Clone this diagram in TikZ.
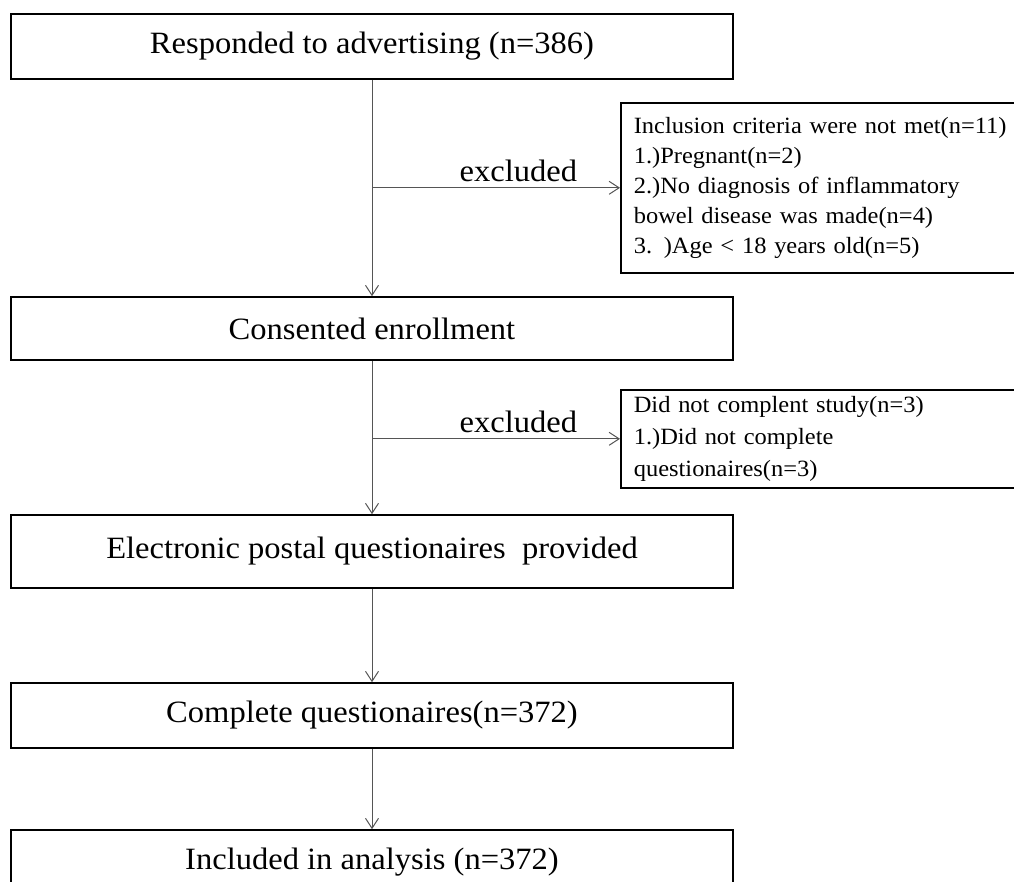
\documentclass[tikz,border=0pt]{standalone}
\usepackage{fontspec}
\setmainfont{Liberation Serif}[FakeStretch=1.05]
\usetikzlibrary{arrows.meta,positioning}
\definecolor{LineGray}{RGB}{85,85,85}

\begin{document}
\begin{tikzpicture}[x=1pt,y=-1pt,>={Straight Barb[length=10pt,width=13pt]},
  stage/.style={draw,line width=1.6pt,minimum width=722pt,inner sep=0pt,font=\fontsize{31}{34}\selectfont},
  exclbox/.style={draw,line width=1.6pt,anchor=north west,inner xsep=13pt,inner ysep=0pt,align=left,text width=385pt},
  flow/.style={->,LineGray,line width=1pt}]
\useasboundingbox (0,0) rectangle (1014,881);
% main column
\node[stage,minimum height=65pt] (advert) at (372,46.5) {Responded to advertising (n=386)};
\node[stage,minimum height=63pt] (consent) at (372,328.5) {Consented enrollment};
\node[stage,minimum height=73pt] (provided) at (372,551.5) {Electronic postal questionaires~ provided};
\node[stage,minimum height=65pt] (complete) at (372,715.5) {Complete questionaires(n=372)};
\node[stage,minimum height=65pt] (analysis) at (372,862.5) {Included in analysis (n=372)};
% exclusion boxes
\node[exclbox,minimum height=170pt,font=\fontsize{23.3}{30}\selectfont] (notmet) at (620,102) {Inclusion criteria were not met(n=11)\\1.)Pregnant(n=2)\\2.)No diagnosis of inflammatory\\bowel disease was made(n=4)\\3. )Age < 18 years old(n=5)};
\node[exclbox,minimum height=98pt,font=\fontsize{23.3}{32}\selectfont] (dropout) at (620,389) {Did not complent study(n=3)\\1.)Did not complete\\questionaires(n=3)};
\foreach \a/\b in {advert/consent,consent/provided,provided/complete,complete/analysis}
  \draw[flow] (\a) -- (\b);
\foreach \s/\t in {advert/notmet,consent/dropout}
  \draw[flow] (\s.south |- \t.west) -- node[above=6pt,inner sep=0pt,pos=.59,black,font=\fontsize{31}{34}\selectfont]{excluded} (\t.west);
\end{tikzpicture}
\end{document}
